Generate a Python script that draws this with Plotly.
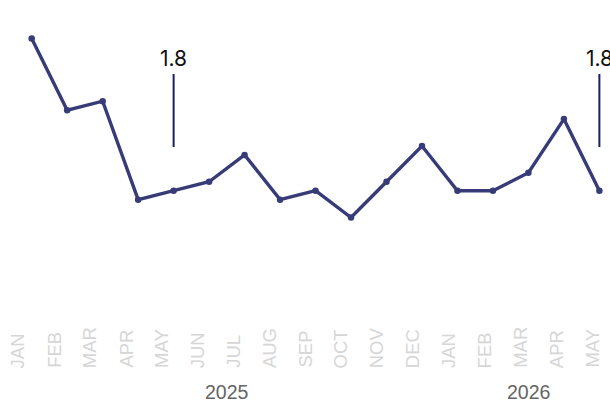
import plotly.graph_objects as go

months = ["JAN", "FEB", "MAR", "APR", "MAY", "JUN", "JUL", "AUG", "SEP", "OCT", "NOV", "DEC",
          "JAN", "FEB", "MAR", "APR", "MAY"]
values = [3.5, 2.7, 2.8, 1.7, 1.8, 1.9, 2.2, 1.7, 1.8, 1.5, 1.9, 2.3,
          1.8, 1.8, 2.0, 2.6, 1.8]
years = ["2025", "2026"]
year_centers = [5.5, 14.0]          # middle of each year's months (point index)
callout_idx = [4, 16]               # May 2025, May 2026
callout_text = ["1.8", "1.8"]

W, H = 610, 402
PLOT_H = 300

x_idx = list(range(len(months)))

fig = go.Figure()
fig.add_trace(go.Scatter(
    x=x_idx, y=values, mode="lines+markers",
    line=dict(color="#373c78", width=3.4),
    marker=dict(color="#373c78", size=6.5),
    hoverinfo="skip", showlegend=False,
))
# invisible trace to instantiate the category-band axis for month labels
fig.add_trace(go.Scatter(x=x_idx, y=values, xaxis="x2", mode="markers",
                         marker=dict(opacity=0), showlegend=False, hoverinfo="skip"))

annotations = []
for i, m in enumerate(months):
    annotations.append(dict(
        x=i, xref="x2", y=(PLOT_H - 370) / PLOT_H, yref="paper",
        text=m, textangle=-90, showarrow=False,
        xanchor="center", yanchor="bottom",
        font=dict(family="Liberation Sans, Arial", size=18.5, color="#d6d6d6"),
    ))
for yc, t in zip(year_centers, years):
    annotations.append(dict(
        x=yc, xref="x", y=(PLOT_H - 392) / PLOT_H, yref="paper",
        text=t, showarrow=False, xanchor="center", yanchor="middle",
        borderpad=0,
        font=dict(family="Liberation Sans, Arial", size=19.5, color="#646464"),
    ))
shapes = []
for idx, t in zip(callout_idx, callout_text):
    annotations.append(dict(
        x=idx, xref="x", y=(PLOT_H - 58.5) / PLOT_H, yref="paper",
        text=t, showarrow=False, xanchor="center", yanchor="middle",
        font=dict(family="Inter, Lato", size=21, color="#111111"),
    ))
    shapes.append(dict(
        type="line", xref="x", x0=idx, x1=idx, yref="paper",
        y0=(PLOT_H - 147) / PLOT_H, y1=(PLOT_H - 74) / PLOT_H,
        line=dict(color="#1b1f5e", width=2),
    ))

px_per_pt = 35.48
x0_px = 31.7
px_per_unit = 89.5
y_ref_px, y_ref_val = 190.7, 1.8

fig.update_layout(
    width=W, height=H,
    margin=dict(l=0, r=0, t=0, b=H - PLOT_H),
    paper_bgcolor="white", plot_bgcolor="white",
    xaxis=dict(range=[-x0_px / px_per_pt, (W - x0_px) / px_per_pt],
               visible=False, fixedrange=True),
    xaxis2=dict(range=[-0.5, len(months) - 0.5], overlaying="x",
                visible=False, fixedrange=True),
    yaxis=dict(range=[y_ref_val - (PLOT_H - y_ref_px) / px_per_unit,
                      y_ref_val + y_ref_px / px_per_unit],
               visible=False, fixedrange=True),
    annotations=annotations,
    shapes=shapes,
    showlegend=False,
)

fig.write_html("out.html", config={"displayModeBar": False},
               post_script="document.body.style.margin='0';")
